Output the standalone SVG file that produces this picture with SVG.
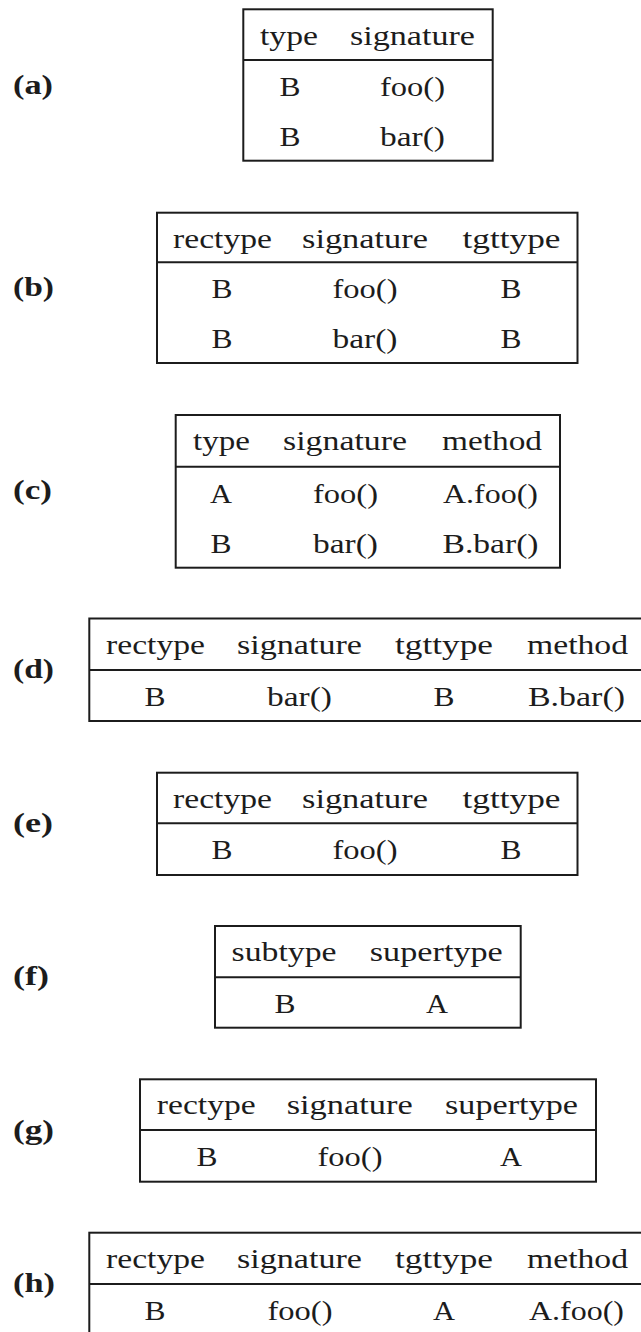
<svg xmlns="http://www.w3.org/2000/svg" width="641" height="1332" viewBox="0 0 641 1332">
  <style>
    .frame { fill: none; stroke: #1c1c1c; stroke-width: 2; }
    .rule { stroke: #1c1c1c; stroke-width: 2; }
    .cell { font-family: "Liberation Serif", "Times New Roman", serif; font-size: 28px; fill: #1c1c1c; text-anchor: middle; }
    .tag { font-family: "Liberation Serif", "Times New Roman", serif; font-size: 28px; font-weight: bold; fill: #1c1c1c; text-anchor: start; }
  </style>
  <rect width="641" height="1332" fill="#ffffff"/>

  <!-- (a) type / signature -->
  <g id="table-a">
    <text class="tag" x="13" y="94" textLength="40" lengthAdjust="spacingAndGlyphs">(a)</text>
    <rect class="frame" x="243.3" y="9.3" width="249.4" height="151.4"/>
    <line class="rule" x1="243.3" y1="60" x2="492.7" y2="60"/>
    <text class="cell" x="289" y="44.5" textLength="58" lengthAdjust="spacingAndGlyphs">type</text>
    <text class="cell" x="412.5" y="44.5" textLength="125" lengthAdjust="spacingAndGlyphs">signature</text>
    <text class="cell" x="290" y="95.5" textLength="21" lengthAdjust="spacingAndGlyphs">B</text>
    <text class="cell" x="412.5" y="95.5" textLength="65" lengthAdjust="spacingAndGlyphs">foo()</text>
    <text class="cell" x="290" y="146" textLength="21" lengthAdjust="spacingAndGlyphs">B</text>
    <text class="cell" x="412.5" y="146" textLength="65" lengthAdjust="spacingAndGlyphs">bar()</text>
  </g>

  <!-- (b) rectype / signature / tgttype -->
  <g id="table-b">
    <text class="tag" x="13" y="296" textLength="41" lengthAdjust="spacingAndGlyphs">(b)</text>
    <rect class="frame" x="157" y="212.7" width="420.5" height="150.3"/>
    <line class="rule" x1="157" y1="262.3" x2="577.5" y2="262.3"/>
    <text class="cell" x="222.5" y="247.5" textLength="99" lengthAdjust="spacingAndGlyphs">rectype</text>
    <text class="cell" x="365" y="247.5" textLength="126" lengthAdjust="spacingAndGlyphs">signature</text>
    <text class="cell" x="511.5" y="247.5" textLength="98" lengthAdjust="spacingAndGlyphs">tgttype</text>
    <text class="cell" x="222" y="298" textLength="21" lengthAdjust="spacingAndGlyphs">B</text>
    <text class="cell" x="365" y="298" textLength="65" lengthAdjust="spacingAndGlyphs">foo()</text>
    <text class="cell" x="511" y="298" textLength="21" lengthAdjust="spacingAndGlyphs">B</text>
    <text class="cell" x="222" y="348" textLength="21" lengthAdjust="spacingAndGlyphs">B</text>
    <text class="cell" x="365" y="348" textLength="65" lengthAdjust="spacingAndGlyphs">bar()</text>
    <text class="cell" x="511" y="348" textLength="21" lengthAdjust="spacingAndGlyphs">B</text>
  </g>

  <!-- (c) type / signature / method -->
  <g id="table-c">
    <text class="tag" x="13" y="499" textLength="39" lengthAdjust="spacingAndGlyphs">(c)</text>
    <rect class="frame" x="175.7" y="415" width="384.3" height="152.7"/>
    <line class="rule" x1="175.7" y1="466.7" x2="560" y2="466.7"/>
    <text class="cell" x="221.5" y="450" textLength="57" lengthAdjust="spacingAndGlyphs">type</text>
    <text class="cell" x="345" y="450" textLength="124" lengthAdjust="spacingAndGlyphs">signature</text>
    <text class="cell" x="492" y="450" textLength="100" lengthAdjust="spacingAndGlyphs">method</text>
    <text class="cell" x="221" y="502.7" textLength="22" lengthAdjust="spacingAndGlyphs">A</text>
    <text class="cell" x="345.5" y="502.7" textLength="65" lengthAdjust="spacingAndGlyphs">foo()</text>
    <text class="cell" x="490.5" y="502.7" textLength="95" lengthAdjust="spacingAndGlyphs">A.foo()</text>
    <text class="cell" x="221" y="553" textLength="21" lengthAdjust="spacingAndGlyphs">B</text>
    <text class="cell" x="345.5" y="553" textLength="65" lengthAdjust="spacingAndGlyphs">bar()</text>
    <text class="cell" x="490.5" y="553" textLength="96" lengthAdjust="spacingAndGlyphs">B.bar()</text>
  </g>

  <!-- (d) rectype / signature / tgttype / method (runs past the right edge) -->
  <g id="table-d">
    <text class="tag" x="13" y="677.5" textLength="41" lengthAdjust="spacingAndGlyphs">(d)</text>
    <rect class="frame" x="89.3" y="618.5" width="560" height="102.5"/>
    <line class="rule" x1="89.3" y1="670" x2="649.3" y2="670"/>
    <text class="cell" x="155.5" y="653.5" textLength="99" lengthAdjust="spacingAndGlyphs">rectype</text>
    <text class="cell" x="299.5" y="653.5" textLength="125" lengthAdjust="spacingAndGlyphs">signature</text>
    <text class="cell" x="444" y="653.5" textLength="98" lengthAdjust="spacingAndGlyphs">tgttype</text>
    <text class="cell" x="577.5" y="653.5" textLength="101" lengthAdjust="spacingAndGlyphs">method</text>
    <text class="cell" x="155" y="706" textLength="21" lengthAdjust="spacingAndGlyphs">B</text>
    <text class="cell" x="299.5" y="706" textLength="65" lengthAdjust="spacingAndGlyphs">bar()</text>
    <text class="cell" x="444" y="706" textLength="21" lengthAdjust="spacingAndGlyphs">B</text>
    <text class="cell" x="576.5" y="706" textLength="97" lengthAdjust="spacingAndGlyphs">B.bar()</text>
  </g>

  <!-- (e) rectype / signature / tgttype -->
  <g id="table-e">
    <text class="tag" x="13" y="832" textLength="40" lengthAdjust="spacingAndGlyphs">(e)</text>
    <rect class="frame" x="157" y="772.7" width="420.5" height="102.3"/>
    <line class="rule" x1="157" y1="823.3" x2="577.5" y2="823.3"/>
    <text class="cell" x="222.5" y="807.7" textLength="99" lengthAdjust="spacingAndGlyphs">rectype</text>
    <text class="cell" x="365" y="807.7" textLength="126" lengthAdjust="spacingAndGlyphs">signature</text>
    <text class="cell" x="511.5" y="807.7" textLength="98" lengthAdjust="spacingAndGlyphs">tgttype</text>
    <text class="cell" x="222" y="859.3" textLength="21" lengthAdjust="spacingAndGlyphs">B</text>
    <text class="cell" x="365" y="859.3" textLength="65" lengthAdjust="spacingAndGlyphs">foo()</text>
    <text class="cell" x="511" y="859.3" textLength="21" lengthAdjust="spacingAndGlyphs">B</text>
  </g>

  <!-- (f) subtype / supertype -->
  <g id="table-f">
    <text class="tag" x="13" y="985" textLength="36" lengthAdjust="spacingAndGlyphs">(f)</text>
    <rect class="frame" x="215" y="926" width="305.7" height="101.7"/>
    <line class="rule" x1="215" y1="977.3" x2="520.7" y2="977.3"/>
    <text class="cell" x="284" y="961" textLength="105" lengthAdjust="spacingAndGlyphs">subtype</text>
    <text class="cell" x="436.3" y="961" textLength="133" lengthAdjust="spacingAndGlyphs">supertype</text>
    <text class="cell" x="285" y="1013" textLength="21" lengthAdjust="spacingAndGlyphs">B</text>
    <text class="cell" x="437" y="1013" textLength="22" lengthAdjust="spacingAndGlyphs">A</text>
  </g>

  <!-- (g) rectype / signature / supertype -->
  <g id="table-g">
    <text class="tag" x="13" y="1138.5" textLength="41" lengthAdjust="spacingAndGlyphs">(g)</text>
    <rect class="frame" x="140" y="1079.3" width="456" height="102.4"/>
    <line class="rule" x1="140" y1="1130" x2="596" y2="1130"/>
    <text class="cell" x="206.3" y="1114.3" textLength="99" lengthAdjust="spacingAndGlyphs">rectype</text>
    <text class="cell" x="349.7" y="1114.3" textLength="126" lengthAdjust="spacingAndGlyphs">signature</text>
    <text class="cell" x="511.5" y="1114.3" textLength="133" lengthAdjust="spacingAndGlyphs">supertype</text>
    <text class="cell" x="207" y="1166" textLength="21" lengthAdjust="spacingAndGlyphs">B</text>
    <text class="cell" x="350" y="1166" textLength="65" lengthAdjust="spacingAndGlyphs">foo()</text>
    <text class="cell" x="511" y="1166" textLength="22" lengthAdjust="spacingAndGlyphs">A</text>
  </g>

  <!-- (h) rectype / signature / tgttype / method (runs past the right and bottom edges) -->
  <g id="table-h">
    <text class="tag" x="13" y="1292" textLength="42" lengthAdjust="spacingAndGlyphs">(h)</text>
    <rect class="frame" x="89.3" y="1232.7" width="560" height="103"/>
    <line class="rule" x1="89.3" y1="1284" x2="649.3" y2="1284"/>
    <text class="cell" x="155.5" y="1267.7" textLength="99" lengthAdjust="spacingAndGlyphs">rectype</text>
    <text class="cell" x="299.5" y="1267.7" textLength="125" lengthAdjust="spacingAndGlyphs">signature</text>
    <text class="cell" x="444" y="1267.7" textLength="98" lengthAdjust="spacingAndGlyphs">tgttype</text>
    <text class="cell" x="577.5" y="1267.7" textLength="101" lengthAdjust="spacingAndGlyphs">method</text>
    <text class="cell" x="155" y="1320" textLength="21" lengthAdjust="spacingAndGlyphs">B</text>
    <text class="cell" x="300" y="1320" textLength="65" lengthAdjust="spacingAndGlyphs">foo()</text>
    <text class="cell" x="444" y="1320" textLength="22" lengthAdjust="spacingAndGlyphs">A</text>
    <text class="cell" x="576.5" y="1320" textLength="95" lengthAdjust="spacingAndGlyphs">A.foo()</text>
  </g>
</svg>
